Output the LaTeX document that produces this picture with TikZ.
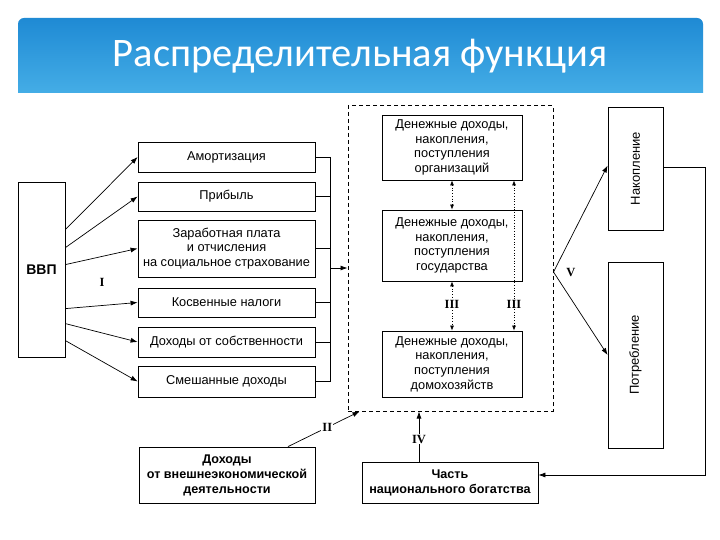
\documentclass[tikz,border=0pt]{standalone}
\usepackage{fontspec}
\setmainfont{Liberation Sans}
\newfontfamily\titlefont{Carlito}
\newfontfamily\numfont{Liberation Serif}
\usetikzlibrary{arrows.meta}
\definecolor{bannerTop}{HTML}{1F8AD4}
\definecolor{bannerBot}{HTML}{44ADE6}
\begin{document}
\begin{tikzpicture}[x=1pt,y=-1pt,
  box/.style={draw, line width=0.8pt, inner sep=1pt, align=center, font=\fontsize{12.8}{14.6}\selectfont},
  arr/.style={line width=0.7pt, -{Latex[length=7pt,width=5pt]}},
  dotarr/.style={line width=0.7pt, dotted, {Latex[length=5pt,width=4pt]}-{Latex[length=5pt,width=4pt]}},
  rn/.style={font=\numfont\bfseries\fontsize{12.5}{12.5}\selectfont, fill=white, inner sep=1pt},
  ln/.style={line width=0.7pt}]
\useasboundingbox (0,0) rectangle (720,540);
\fill[white] (0,0) rectangle (720,540);
% banner
\shade[top color=bannerTop, bottom color=bannerBot] (18,93) -- (18,24) arc(180:270:6) -- (697,18) arc(270:360:6) -- (703,93) -- cycle;
\node[text=white, font=\titlefont\fontsize{40.5}{40.5}\selectfont] (title) at (360,56) {Распределительная функция};
% GDP
\node[box, minimum width=47pt, minimum height=175pt, font=\fontsize{14}{16}\selectfont\bfseries] (bvp) at (41.5,269.5) {ВВП};
% left boxes
\node[box, minimum width=177pt, minimum height=30pt] (am) at (226.5,157) {Амортизация};
\node[box, minimum width=177pt, minimum height=29pt] (pr) at (226.5,196.5) {Прибыль};
\node[box, minimum width=177pt, minimum height=57pt] (zp) at (226.5,248.5) {Заработная плата\\и отчисления\\на социальное страхование};
\node[box, minimum width=177pt, minimum height=29pt] (kn) at (226.5,302.5) {Косвенные налоги};
\node[box, minimum width=177pt, minimum height=30pt] (ds) at (226.5,342) {Доходы от собственности};
\node[box, minimum width=177pt, minimum height=31pt] (sm) at (226.5,381.5) {Смешанные доходы};
% arrows from GDP
\draw[arr] ([yshift=-48pt]bvp.north east) -- (am.west);
\draw[arr] ([yshift=-66pt]bvp.north east) -- (pr.west);
\draw[arr] ([yshift=-83pt]bvp.north east) -- (zp.west);
\draw[arr] ([yshift=-127pt]bvp.north east) -- (kn.west);
\draw[arr] ([yshift=-142pt]bvp.north east) -- (ds.west);
\draw[arr] ([yshift=-159pt]bvp.north east) -- (sm.west);
\node[rn, fill=none] (lI) at (102,282) {I};
% dashed box
\node[draw, dashed, line width=1pt, dash pattern=on 4pt off 3pt, minimum width=205pt, minimum height=305pt, inner sep=0pt] (dbox) at (450.5,258.5) {};
% bracket
\coordinate (bx) at (330,268);
\draw[ln] (am.east) -- (am.east -| bx);
\draw[ln] (pr.east) -- (pr.east -| bx);
\draw[ln] (zp.east) -- (zp.east -| bx);
\draw[ln] (kn.east) -- (kn.east -| bx);
\draw[ln] (ds.east) -- (ds.east -| bx);
\draw[ln] (sm.east) -- (sm.east -| bx);
\draw[ln] (am.east -| bx) -- (sm.east -| bx);
\draw[arr] (bx) -- (bx -| dbox.west);
% inner boxes
\node[box, minimum width=140pt, minimum height=65pt] (o1) at (452,147.5) {Денежные доходы,\\накопления,\\поступления\\организаций};
\node[box, minimum width=140pt, minimum height=71pt] (o2) at (452,245.5) {Денежные доходы,\\накопления,\\поступления\\государства};
\node[box, minimum width=140pt, minimum height=66pt] (o3) at (452,364) {Денежные доходы,\\накопления,\\поступления\\домохозяйств};
\coordinate (rx) at (514,0);
\draw[dotarr] (o1.south) -- (o2.north);
\draw[dotarr] (o2.south) -- (o3.north);
\draw[dotarr] (o1.south -| rx) -- (o3.north -| rx);
\node[rn] (l3a) at (452,304) {III};
\node[rn] (l3b) at (514,304) {III};
% right boxes
\node[box, minimum width=55pt, minimum height=123pt] (nak) at (635.5,168.5) {};
\node[font=\fontsize{13}{13}\selectfont, rotate=90] (nakt) at (nak.center) {Накопление};
\node[box, minimum width=55pt, minimum height=186pt] (pot) at (635.5,355) {};
\node[font=\fontsize{13}{13}\selectfont, rotate=90] (pott) at (pot.center) {Потребление};
\coordinate (vap) at ([yshift=-13.5pt]dbox.east);
\draw[arr] (vap) -- ([yshift=3pt]nak.west);
\draw[arr] (vap) -- (pot.west);
\node[rn, fill=none] (lV) at (571,273) {V};
% bottom boxes
\node[box, minimum width=176pt, minimum height=56pt, font=\fontsize{12.6}{15}\selectfont\bfseries] (doh) at (227,475) {Доходы\\от внешнеэкономической\\деятельности};
\node[box, minimum width=176pt, minimum height=41pt, font=\fontsize{12.6}{15}\selectfont\bfseries] (chast) at (450,482.5) {Часть\\национального богатства};
% feedback
\draw[arr] ([yshift=1pt]nak.east) -- ++(42,0) |- ([yshift=7.5pt]chast.east);
% II
\draw[arr] ([xshift=61pt]doh.north) -- ([xshift=12pt]dbox.south west) node[rn, pos=0.55] (lII) {II};
% IV
\coordinate (iv) at ([xshift=-31pt]chast.north);
\draw[arr] (iv) -- (iv |- dbox.south) node[rn, pos=0.45] (lIV) {IV};
\end{tikzpicture}
\end{document}
